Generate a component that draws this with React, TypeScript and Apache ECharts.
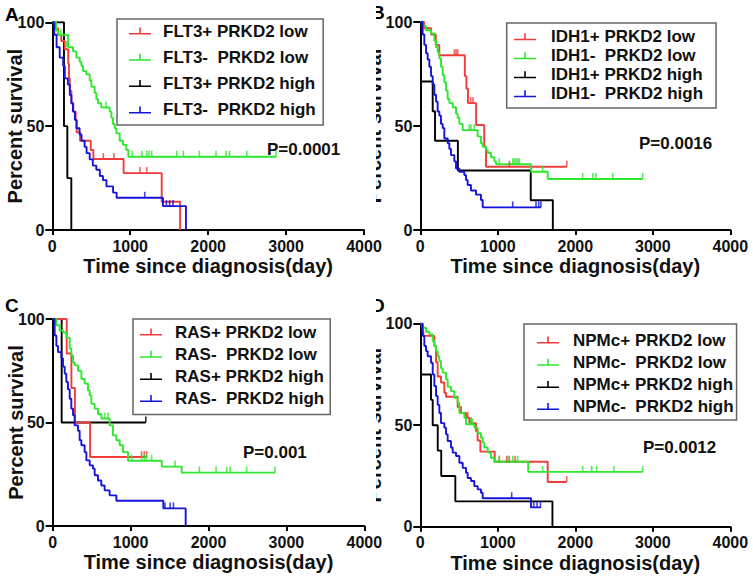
import React, { useEffect, useRef } from "react";
import * as echarts from "echarts";

// ---------- DATA ----------
const X_TICKS = [0, 1000, 2000, 3000, 4000];
const Y_TICKS = [0, 50, 100];
const X_TITLE = "Time since diagnosis(day)";
const Y_TITLE = "Percent survival";
const PANEL_LETTERS = ["A", "B", "C", "D"];
const P_VALUES = ["P=0.0001", "P=0.0016", "P=0.001", "P=0.0012"];

const A_NAMES = ["FLT3+ PRKD2 low", "FLT3-  PRKD2 low", "FLT3+ PRKD2 high", "FLT3-  PRKD2 high"];
const B_NAMES = ["IDH1+ PRKD2 low", "IDH1-  PRKD2 low", "IDH1+ PRKD2 high", "IDH1-  PRKD2 high"];
const C_NAMES = ["RAS+ PRKD2 low", "RAS-  PRKD2 low", "RAS+ PRKD2 high", "RAS-  PRKD2 high"];
const D_NAMES = ["NPMc+ PRKD2 low", "NPMc-  PRKD2 low", "NPMc+ PRKD2 high", "NPMc-  PRKD2 high"];

// Panel A (FLT3)
const A_POS_LOW = [[0,100],[40,97],[75,94],[115,91],[160,87],[205,80],[215,73],[225,67],[245,61],[270,57],[300,53],[313,47],[356,43],[493,38.5],[527,34.2],[915,27.4],[1404,13.6],[1640,0]];
const A_POS_LOW_CENS = [[655,34.2],[792,34.2],[1126,27.4],[1212,27.4]];
const A_NEG_LOW = [[0,100],[52,96],[73,94],[202,88],[266,86],[309,83],[351,81],[373,79],[394,76.5],[437,75],[480,72],[501,69],[544,66],[565,63],[587,61],[629,59],[736,57],[758,54],[779,51],[801,49],[822,46.5],[865,43],[907,41],[950,38.5],[976,35.3],[2872,35.3]];
const A_NEG_LOW_CENS = [[110,94],[180,88],[690,59],[1027,35.3],[1150,35.3],[1212,35.3],[1240,35.3],[1276,35.3],[1597,35.3],[1682,35.3],[1887,35.3],[2101,35.3],[2230,35.3],[2273,35.3],[2496,35.3],[2872,35.3]];
const A_POS_HIGH = [[0,100],[150,50],[193,25],[244,0]];
const A_POS_HIGH_CENS: number[][] = [];
const A_NEG_HIGH = [[0,100],[25,94],[55,88],[95,83],[140,79],[160,73],[200,70],[225,65],[245,61],[265,57],[290,53],[310,49],[350,46],[375,43],[415,40],[440,37],[480,34],[520,31],[565,29],[610,26],[650,24],[695,21],[780,18],[825,15.5],[1420,11.5],[1715,0]];
const A_NEG_HIGH_CENS = [[1186,15.5],[1464,11.5],[1506,11.5],[1549,11.5]];

// Panel B (IDH1)
const B_POS_LOW = [[0,100],[50,97],[140,94],[200,89],[245,84],[575,74],[595,68],[615,61],[720,50.5],[825,40],[848,30.4],[1890,30.4]];
const B_POS_LOW_CENS = [[440,84],[461,84],[483,84],[650,61],[680,61],[1150,30.4],[1890,30.4]];
const B_NEG_LOW = [[0,100],[30,98],[74,96],[138,94.5],[181,91],[203,88],[224,85.5],[246,82.5],[267,78.5],[289,74.5],[310,71],[332,67],[353,63],[375,61],[418,59],[461,56],[482,54],[504,51],[547,48],[740,45],[783,41.7],[805,40],[848,38.5],[870,37],[912,35],[955,33],[977,31.6],[1430,28],[1644,24.5],[2870,24.5]];
const B_NEG_LOW_CENS = [[633,48],[654,48],[697,48],[1019,31.6],[1192,31.6],[1213,31.6],[1235,31.6],[1257,31.6],[1277,31.6],[1579,28],[2095,24.5],[2224,24.5],[2267,24.5],[2483,24.5],[2870,24.5]];
const B_POS_HIGH = [[0,100],[10,71.4],[160,57.1],[190,42.9],[485,28.6],[1425,14.3],[1710,0]];
const B_POS_HIGH_CENS: number[][] = [];
const B_NEG_HIGH = [[0,100],[30,94],[52,89],[74,85],[95,82],[117,78.5],[138,74],[160,70],[181,65],[203,61.7],[224,57],[246,55],[267,51],[289,49],[310,44],[353,41.7],[375,39],[396,36],[439,33],[461,29.6],[504,28],[568,26.4],[590,24],[611,21.6],[654,19],[719,17],[783,14.4],[805,10.9],[1557,10.9]];
const B_NEG_HIGH_CENS = [[1192,10.9],[1493,10.9],[1528,10.9],[1557,10.9]];

// Panel C (RAS)
const C_POS_LOW = [[0,100],[180,83.3],[240,66.7],[285,50],[480,33.3],[1205,33.3]];
const C_POS_LOW_CENS = [[1140,33.3],[1175,33.3],[1205,33.3]];
const C_NEG_LOW = [[0,100],[47,97],[89,94.5],[132,93.5],[175,91],[218,85.7],[239,82.4],[261,79],[282,77.6],[325,75],[368,71],[410,68.8],[453,65.5],[475,63],[496,59],[539,56.7],[581,54],[624,51.9],[731,48.6],[774,43.8],[817,41.4],[860,39],[902,35.7],[967,31.5],[1400,28.7],[1656,25.8],[2854,25.8]];
const C_NEG_LOW_CENS = [[667,51.9],[710,51.9],[1014,31.5],[1142,31.5],[1177,31.5],[1206,31.5],[1270,31.5],[1570,28.7],[1883,25.8],[2097,25.8],[2234,25.8],[2277,25.8],[2490,25.8],[2854,25.8]];
const C_POS_HIGH = [[0,100],[115,50],[1195,50]];
const C_POS_HIGH_CENS = [[1195,50]];
const C_NEG_HIGH = [[0,100],[25,92],[47,87],[68,84],[111,81],[132,77],[154,73.6],[175,69.6],[196,66],[218,61.5],[239,56.7],[261,53.5],[282,48.6],[325,46],[346,41.4],[368,39],[410,35.7],[432,31.7],[475,29.3],[517,27.7],[539,24.5],[581,22],[624,19.6],[667,17.2],[731,14.8],[817,12.2],[1420,8.5],[1707,0]];
const C_NEG_HIGH_CENS = [[1442,8.5],[1507,8.5],[1550,8.5]];

// Panel D (NPMc)
const D_POS_LOW = [[0,100],[30,96],[40,94],[181,89],[203,81],[224,74],[267,71],[310,66],[332,64],[482,59],[525,56],[590,53.7],[633,51],[719,47],[740,42.5],[775,37],[960,32],[1644,22],[1889,22]];
const D_POS_LOW_CENS = [[612,53.7],[655,51],[1019,32],[1115,32],[1148,32],[1222,32],[1889,22]];
const D_NEG_LOW = [[0,100],[30,98],[74,96],[117,94.7],[160,91.5],[181,89],[203,86.5],[224,84],[246,81.6],[267,78],[289,75.9],[332,72.6],[353,69],[396,66.8],[439,63.5],[482,61],[504,56],[568,53.7],[590,50.4],[697,48.8],[740,46],[783,43.8],[805,41.4],[826,39],[870,36.5],[912,34],[955,32],[1392,27],[2870,27]];
const D_NEG_LOW_CENS = [[650,50.4],[675,50.4],[1019,32],[1127,32],[1192,32],[1256,32],[1579,27],[2095,27],[2212,27],[2276,27],[2499,27],[2870,27]];
const D_POS_HIGH = [[0,100],[10,75],[138,62.5],[160,50],[225,37.5],[270,25],[452,12.5],[1705,0]];
const D_POS_HIGH_CENS: number[][] = [];
const D_NEG_HIGH = [[0,100],[30,94],[52,89],[74,86.5],[95,84],[138,80.8],[160,75],[181,69.3],[203,64.4],[224,60],[246,56],[267,51],[310,48.8],[332,45.5],[353,42.2],[396,39],[418,36.5],[461,34.8],[504,31.5],[547,29],[590,26.6],[611,24],[654,22.5],[697,20],[740,18.4],[783,16.7],[805,14],[1428,9.5],[1557,9.5]];
const D_NEG_HIGH_CENS = [[1179,14],[1465,9.5],[1507,9.5],[1550,9.5]];

// ---------- STYLE / LAYOUT ----------
const FONT = '"Liberation Sans", Arial, Helvetica, sans-serif';
const COLORS = ["#f03c3c", "#2ee82e", "#000000", "#1414dc"];
const ICON = "path://M0,5.5h22v1.5h-22zM10.2,0h1.6v5.5h-1.6z";

const GRIDS = [
  { left: 52.3, top: 22.3, width: 311.7, height: 207.7 },
  { left: 420.3, top: 22, width: 310, height: 208 },
  { left: 52.7, top: 319, width: 311.6, height: 207 },
  { left: 420.3, top: 323.7, width: 310, height: 203 },
];
const LEGENDS = [
  { left: 117, top: 19, padding: [3, 7.5, 6, 12], itemGap: 8.3, lineHeight: 18, textPad: 7 },
  { left: 506.7, top: 23, padding: [5.2, 13, 5.8, 7.3], itemGap: 2, lineHeight: 17, textPad: 10 },
  { left: 133, top: 319, padding: [4, 6, 7, 7], itemGap: 4.2, lineHeight: 18, textPad: 8 },
  { left: 524, top: 324, padding: [7, 3, 4.4, 13], itemGap: 4.2, lineHeight: 18, textPad: 9 },
];
const Y_NAME_GAP = [27, 36, 27, 36];
const P_POS = [[267, 149], [639, 143], [243, 452], [643, 447]];
const LETTER_POS = [[5, 5], [371, 3], [5, 296], [371, 296]];

const PANELS = [
  { names: A_NAMES, curves: [A_POS_LOW, A_NEG_LOW, A_POS_HIGH, A_NEG_HIGH], cens: [A_POS_LOW_CENS, A_NEG_LOW_CENS, A_POS_HIGH_CENS, A_NEG_HIGH_CENS] },
  { names: B_NAMES, curves: [B_POS_LOW, B_NEG_LOW, B_POS_HIGH, B_NEG_HIGH], cens: [B_POS_LOW_CENS, B_NEG_LOW_CENS, B_POS_HIGH_CENS, B_NEG_HIGH_CENS] },
  { names: C_NAMES, curves: [C_POS_LOW, C_NEG_LOW, C_POS_HIGH, C_NEG_HIGH], cens: [C_POS_LOW_CENS, C_NEG_LOW_CENS, C_POS_HIGH_CENS, C_NEG_HIGH_CENS] },
  { names: D_NAMES, curves: [D_POS_LOW, D_NEG_LOW, D_POS_HIGH, D_NEG_HIGH], cens: [D_POS_LOW_CENS, D_NEG_LOW_CENS, D_POS_HIGH_CENS, D_NEG_HIGH_CENS] },
];

function buildOption() {
  const series: any[] = [];
  const xAxis: any[] = [];
  const yAxis: any[] = [];
  const legend: any[] = [];
  const graphic: any[] = [];

  PANELS.forEach((panel, p) => {
    xAxis.push({
      type: "value",
      gridIndex: p,
      min: X_TICKS[0],
      max: X_TICKS[X_TICKS.length - 1],
      interval: X_TICKS[1] - X_TICKS[0],
      z: p % 2 === 0 ? 3 : 0,
      axisLine: { show: true, onZero: false, lineStyle: { color: "#000", width: 2 } },
      axisTick: { show: true, length: 5, lineStyle: { color: "#000", width: 2 } },
      axisLabel: {
        color: "#111", fontSize: 16, fontWeight: "bold", fontFamily: FONT, margin: 8,
        formatter: (v: number) => String(v),
      },
      splitLine: { show: false },
      name: X_TITLE,
      nameLocation: "middle",
      nameGap: 26,
      nameMoveOverlap: false,
      nameTextStyle: { color: "#111", fontSize: 20, fontWeight: "bold", fontFamily: FONT },
    });
    yAxis.push({
      type: "value",
      gridIndex: p,
      min: Y_TICKS[0],
      max: Y_TICKS[Y_TICKS.length - 1],
      interval: Y_TICKS[1] - Y_TICKS[0],
      z: 0,
      axisLine: { show: true, onZero: false, lineStyle: { color: "#000", width: 2 } },
      axisTick: { show: true, length: 7, lineStyle: { color: "#000", width: 2 } },
      axisLabel: {
        color: "#111", fontSize: 16, fontWeight: "bold", fontFamily: FONT, margin: 8,
        formatter: (v: number) => String(v),
      },
      splitLine: { show: false },
      name: Y_TITLE,
      nameLocation: "middle",
      nameGap: Y_NAME_GAP[p],
      nameMoveOverlap: false,
      nameRotate: 90,
      nameTextStyle: { color: "#111", fontSize: 20, fontWeight: "bold", fontFamily: FONT },
    });

    panel.names.forEach((name, g) => {
      series.push({
        type: "line",
        name,
        xAxisIndex: p,
        yAxisIndex: p,
        data: panel.curves[g],
        step: "end",
        symbol: "none",
        silent: true,
        z: 2 + (g === 2 ? 0 : 1),
        lineStyle: { color: COLORS[g], width: 1.9 },
        itemStyle: { color: COLORS[g] },
      });
      if (panel.cens[g].length) {
        series.push({
          type: "scatter",
          name: name + " censored",
          xAxisIndex: p,
          yAxisIndex: p,
          data: panel.cens[g],
          symbol: "rect",
          symbolSize: [1.6, 6],
          symbolOffset: [0, -3],
          silent: true,
          z: 4,
          itemStyle: { color: COLORS[g] },
        });
      }
    });

    const L = LEGENDS[p];
    legend.push({
      orient: "vertical",
      left: L.left,
      top: L.top,
      data: panel.names,
      icon: ICON,
      itemWidth: 22,
      itemHeight: 7,
      itemGap: L.itemGap,
      padding: L.padding,
      borderColor: "#666",
      borderWidth: 1.5,
      selectedMode: false,
      itemStyle: { borderWidth: 0 },
      textStyle: {
        color: "#111",
        fontSize: 17,
        fontWeight: "bold",
        fontFamily: FONT,
        lineHeight: L.lineHeight,
        padding: [0, 0, 0, L.textPad],
      },
    });

    graphic.push({
      type: "text",
      x: P_POS[p][0],
      y: P_POS[p][1],
      z: 5,
      style: { text: P_VALUES[p], fill: "#111", fontSize: 17, fontWeight: "bold", fontFamily: FONT, verticalAlign: "middle" },
    });
    graphic.push({
      type: "text",
      x: LETTER_POS[p][0],
      y: LETTER_POS[p][1],
      z: 0,
      style: { text: PANEL_LETTERS[p], fill: "#000", fontSize: 19, fontWeight: "bold", fontFamily: FONT },
    });
  });

  // crop seams between the left and right panels (as in the composite figure)
  graphic.push({ type: "rect", shape: { x: 364.5, y: 0, width: 11.5, height: 232 }, z: 1, style: { fill: "#fff" } });
  graphic.push({ type: "rect", shape: { x: 364.5, y: 290, width: 11.5, height: 238 }, z: 1, style: { fill: "#fff" } });

  return {
    animation: false,
    backgroundColor: "#ffffff",
    grid: GRIDS.map((g) => ({ ...g, containLabel: false })),
    xAxis,
    yAxis,
    legend,
    graphic,
    series,
  };
}

export default function App() {
  const ref = useRef<HTMLDivElement>(null);
  useEffect(() => {
    if (!ref.current) return;
    const chart = echarts.init(ref.current, undefined, { renderer: "svg" });
    chart.setOption(buildOption() as any);
    return () => chart.dispose();
  }, []);
  return (
    <div
      ref={ref}
      style={{ position: "absolute", left: 0, top: 0, width: 753, height: 581, background: "#fff" }}
    />
  );
}
